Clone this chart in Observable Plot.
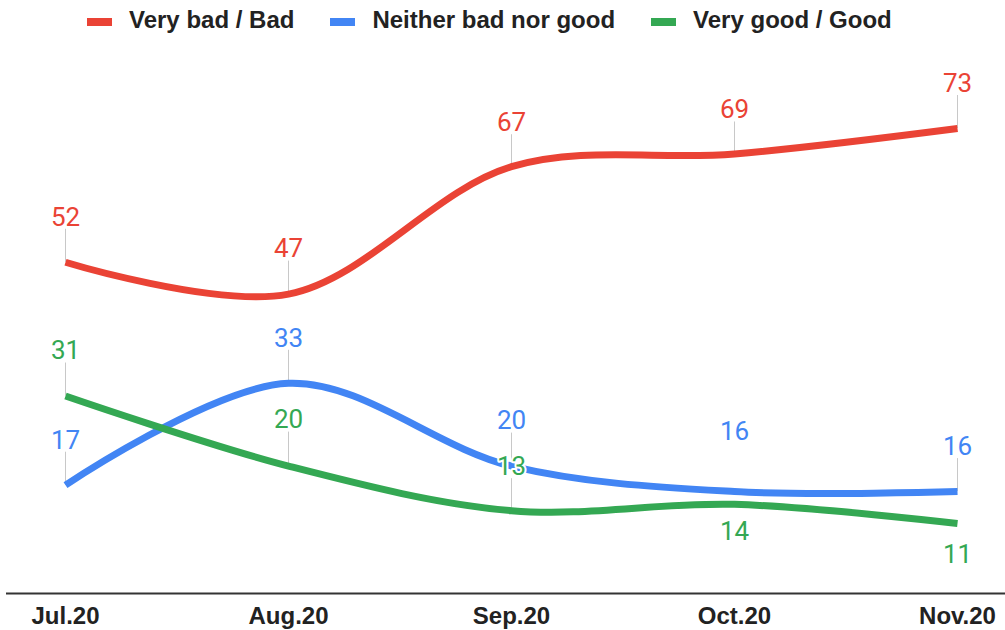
<!DOCTYPE html>
<html>
<head>
<meta charset="utf-8">
<script src="https://cdn.jsdelivr.net/npm/d3@7"></script>
<script src="https://cdn.jsdelivr.net/npm/@observablehq/plot@0.6"></script>
<style>
  html, body { margin: 0; padding: 0; background: #fff; }
  #wrap { position: relative; width: 1005px; height: 630px; overflow: hidden; }
  #legend {
    position: absolute; top: 8px; left: 87px; height: 24px;
    display: flex; align-items: center;
    font-family: "Liberation Sans", Arial, sans-serif; font-weight: bold;
    font-size: 24px; line-height: 24px; color: #222; white-space: nowrap;
  }
  #legend .item { display: flex; align-items: center; margin-right: 36px; }
  #legend .sw { width: 25px; height: 8px; margin-right: 17px; margin-top: 3px; }
  #chart { position: absolute; top: 40px; left: 0; }
</style>
</head>
<body>
<div id="wrap">
  <div id="legend"></div>
  <div id="chart"></div>
</div>
<script>
// Survey periods (x axis)
const months = ["Jul.20", "Aug.20", "Sep.20", "Oct.20", "Nov.20"];

// Share of answers per period, %
const veryBadBad = [52, 47, 67, 69, 73];
const neitherBadNorGood = [17, 33, 20, 16, 16];
const veryGoodGood = [31, 20, 13, 14, 11];

const seriesNames = ["Very bad / Bad", "Neither bad nor good", "Very good / Good"];
const seriesValues = [veryBadBad, neitherBadNorGood, veryGoodGood];
const seriesColors = ["#ea4335", "#4285f4", "#34a853"];

// Vertical placement of each value label relative to its point, px
const labelShift = [
  [-45, -45, -44, -44, -45],
  [-45, -45, -45, -60, -45],
  [-45, -46, -44, 27, 31]
];
const standardShift = -50; // labels above within this distance get a leader line

const rows = seriesNames.flatMap((name, s) =>
  months.map((m, i) => ({
    series: name,
    month: m,
    value: seriesValues[s][i],
    shift: labelShift[s][i]
  }))
);

const yDomain = [0, 73];
const yRange = [553, 88];
const yScale = Plot.scale({y: {domain: yDomain, range: yRange}});
const offsetY = (v, px) => yScale.invert(yScale.apply(v) + px);

const leaders = rows.filter(d => d.shift < 0 && d.shift >= standardShift);

const chart = Plot.plot({
  width: 1005,
  height: 590,
  marginLeft: 6,
  marginRight: 0,
  marginTop: 88,
  marginBottom: 37,
  style: {fontFamily: "Roboto, sans-serif", overflow: "visible", background: "transparent"},
  x: {type: "point", domain: months, range: [64, 958], padding: 0, axis: null},
  y: {domain: yDomain, range: yRange, axis: null},
  color: {domain: seriesNames, range: seriesColors},
  marks: [
    Plot.ruleY([0], {stroke: "#333", strokeWidth: 2}),
    Plot.ruleX(leaders, {
      x: "month",
      y1: "value",
      y2: d => offsetY(d.value, d.shift + 12),
      stroke: "#c8c8c8",
      strokeWidth: 1
    }),
    Plot.line(rows, {
      x: "month",
      y: "value",
      z: "series",
      stroke: "series",
      curve: "catmull-rom",
      strokeWidth: 7,
      strokeLinecap: "butt",
      strokeLinejoin: "round"
    }),
    Plot.text(rows, {
      x: "month",
      y: d => offsetY(d.value, d.shift),
      text: d => String(d.value),
      fill: "series",
      stroke: "white",
      strokeWidth: 4,
      paintOrder: "stroke",
      fontSize: 26,
      lineAnchor: "middle"
    }),
    Plot.axisX({
      tickSize: 0,
      tickPadding: 13,
      fontSize: 24,
      fontWeight: "bold",
      fontFamily: "Liberation Sans, Arial, sans-serif",
      fill: "#222",
      label: null
    })
  ]
});
document.getElementById("chart").appendChild(chart);

// Legend above the chart
const legend = document.getElementById("legend");
seriesNames.forEach((name, i) => {
  const item = document.createElement("div");
  item.className = "item";
  const sw = document.createElement("span");
  sw.className = "sw";
  sw.style.background = seriesColors[i];
  const label = document.createElement("span");
  label.textContent = name;
  item.appendChild(sw);
  item.appendChild(label);
  legend.appendChild(item);
});
</script>
</body>
</html>
